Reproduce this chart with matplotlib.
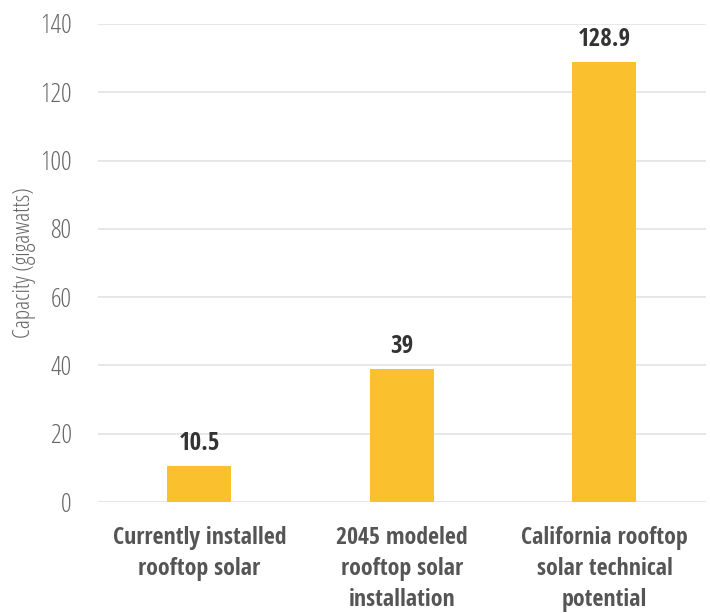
import matplotlib
matplotlib.use("Agg")
import matplotlib.pyplot as plt

categories = ["Currently installed\nrooftop solar", "2045 modeled\nrooftop solar\ninstallation", "California rooftop\nsolar technical\npotential"]
values = [10.5, 39, 128.9]
value_labels = ["10.5", "39", "128.9"]
yticks = [0, 20, 40, 60, 80, 100, 120, 140]

light = dict(family="Open Sans", stretch="condensed", weight=300)
bold = dict(family="Open Sans Condensed", stretch="condensed", weight=700)

fig = plt.figure(figsize=(7.1, 6.13), dpi=100)
ax = fig.add_axes([0.138, 0.181, 0.856, 0.78])
x = range(len(values))
ax.bar(x, values, width=0.316, color="#FBC02D", zorder=3)
ax.set_xlim(-0.5, 2.5)
ax.set_ylim(0, 140)
ax.set_yticks(yticks)
ax.set_yticklabels([str(t) for t in yticks], color="#666666", fontsize=19, **light)
ax.yaxis.grid(True, color="#e3e3e3", linewidth=1.2, zorder=0)
for s in ax.spines.values():
    s.set_visible(False)
ax.tick_params(axis="both", length=0)
ax.tick_params(axis="y", pad=19)
ax.set_xticks(list(x))
ax.set_xticklabels(categories, fontsize=17.2, color="#555555", linespacing=1.4, **bold)
ax.tick_params(axis="x", pad=17)
ax.set_ylabel("Capacity (gigawatts)", fontsize=17, color="#666666", labelpad=3, **light)
for xi, v, t in zip(x, values, value_labels):
    ax.text(xi, v + 3, t, ha="center", va="bottom", fontsize=18, color="#333333", **bold)
fig.savefig("out.png", dpi=100)
